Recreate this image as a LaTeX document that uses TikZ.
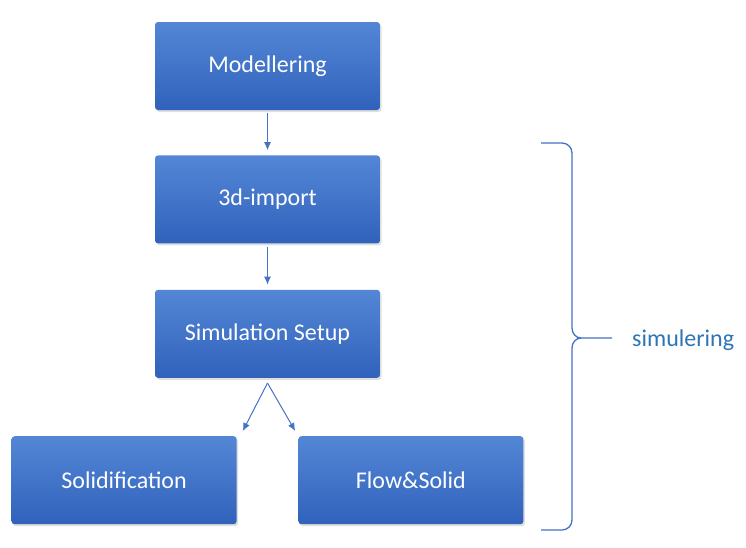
\documentclass[tikz,border=0pt]{standalone}
\usepackage{fontspec}
\setmainfont{Carlito}
\setsansfont{Carlito}
\usepackage{tikz}
\usetikzlibrary{arrows,arrows.meta,positioning,shadows}
\definecolor{boxtop}{RGB}{84,134,214}
\definecolor{boxbot}{RGB}{48,98,188}
\definecolor{linkblue}{RGB}{68,114,196}
\definecolor{labelblue}{RGB}{46,117,182}

\begin{document}
\begin{tikzpicture}
			[x=1pt, y=-1pt, font=\sffamily\fontsize{24}{28}\selectfont, inner sep=0pt,
			stage/.style	= {rectangle, rounded corners=3pt, top color=boxtop, bottom color=boxbot, text=white,
							   minimum width=225pt, minimum height=88pt,
							   drop shadow={opacity=0.25, shadow xshift=1.5pt, shadow yshift=-2pt}},
			link/.style		= {draw=linkblue, line width=1pt, -{Latex[length=8pt,width=7pt]}},
			bracket/.style	= {draw=linkblue, line width=1.3pt}]

			\useasboundingbox (0,0) rectangle (746,547);

			\node [stage]	at (267.5,66)							(model)	{Modellering};
			\node [stage]	[below = 45pt of model]					(import)	{3d-import};
			\node [stage]	[below = 46pt of import]				(setup)	{Simulation Setup};
			\node [stage]	[below left  = 58pt and -82pt of setup]	(solid)	{Solidification};
			\node [stage]	[below right = 58pt and -82pt of setup]	(flow)	{Flow\&Solid};

			\draw [link] ([yshift=-3pt]model.south) -- ([yshift=5pt]import.north);
			\draw [link] ([yshift=-3pt]import.south) -- ([yshift=5pt]setup.north);

			\coordinate (split)	at ([yshift=-5pt]setup.south);
			\coordinate (tipL)	at ([shift={(6pt,5pt)}]solid.north east);
			\coordinate (tipR)	at ([shift={(-3pt,5pt)}]flow.north west);
			\draw [link] (split) -- (tipL);
			\draw [link] (split) -- (tipR);

			\node [text=labelblue, anchor=west]	at (632,340)	(sim)	{simulering};

			% brace
			\draw [bracket] (541,143) -- (562,143) to[out=0,in=90] (572,153) -- (572,328)
							to[out=-90,in=180] (581,338) -- ([xshift=-20pt]sim.west |- 0,338);
			\draw [bracket] (581,338) to[out=180,in=90] (572,348) -- (572,520)
							to[out=-90,in=0] (562,530) -- (541,530);
\end{tikzpicture}
\end{document}
